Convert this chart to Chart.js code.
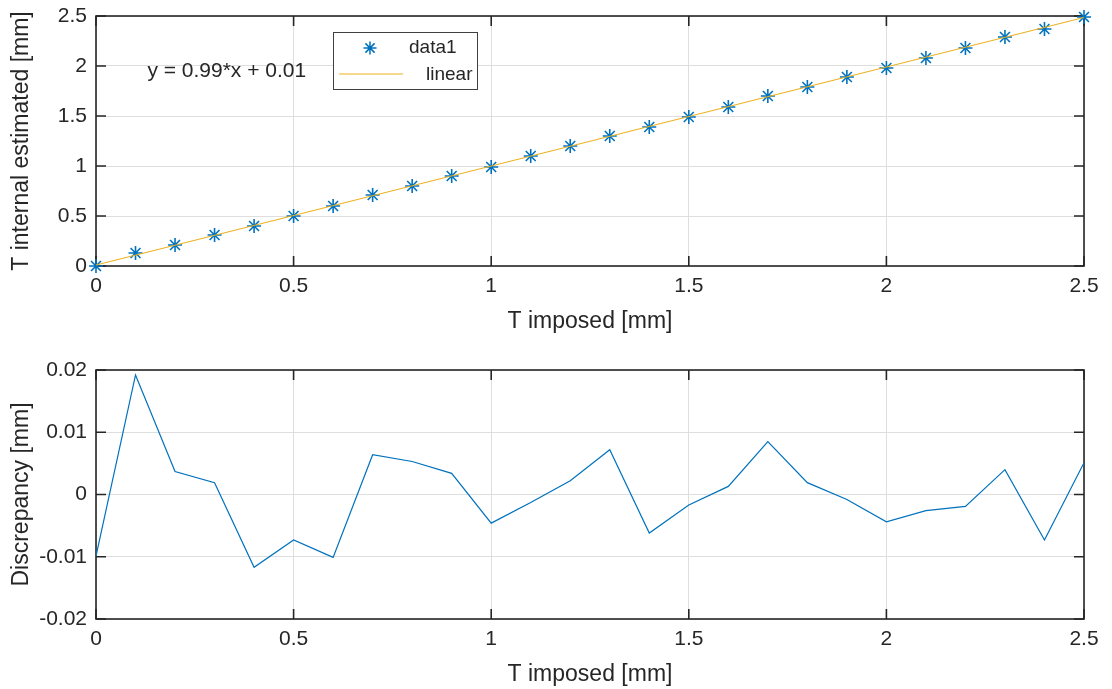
<!DOCTYPE html>
<html>
<head>
<meta charset="utf-8">
<title>T imposed vs estimated</title>
<script src="https://cdn.jsdelivr.net/npm/chart.js@4.4.1/dist/chart.umd.min.js"></script>
<style>
	html, body { margin: 0; padding: 0; background: #fff; }
	#wrap { position: relative; width: 1112px; height: 689px; }
	canvas { position: absolute; left: 0; }
	#topChart { top: 0; }
	#bottomChart { top: 344px; }
</style>
</head>
<body>
<div id="wrap">
	<canvas id="topChart" width="1112" height="344"></canvas>
	<canvas id="bottomChart" width="1112" height="345"></canvas>
</div>
<script>
// du lieu doc tu hinh
const tImposed = [0, 0.1, 0.2, 0.3, 0.4, 0.5, 0.6, 0.7, 0.8, 0.9, 1.0, 1.1, 1.2,
	1.3, 1.4, 1.5, 1.6, 1.7, 1.8, 1.9, 2.0, 2.1, 2.2, 2.3, 2.4, 2.5];
const tEstimated = [0.00, 0.13, 0.21, 0.31, 0.40, 0.50, 0.60, 0.71, 0.80, 0.90, 0.99, 1.10, 1.20,
	1.30, 1.39, 1.49, 1.59, 1.70, 1.79, 1.89, 1.98, 2.08, 2.18, 2.29, 2.37, 2.49];
const fitX = [0, 2.5];
const fitY = [0.01, 2.485];
const discrepancy = [-0.0099, 0.0192, 0.0037, 0.0019, -0.0117, -0.0073, -0.0101, 0.0064, 0.0053,
	0.0034, -0.0046, -0.0013, 0.0022, 0.0072, -0.0062, -0.0017, 0.0013, 0.0085, 0.0019,
	-0.0008, -0.0044, -0.0026, -0.0019, 0.0040, -0.0073, 0.0051];

const xTicks = [0, 0.5, 1, 1.5, 2, 2.5];
const yTicksTop = [0, 0.5, 1, 1.5, 2, 2.5];
const yTicksBottom = [-0.02, -0.01, 0, 0.01, 0.02];

const fitLabel = 'y = 0.99*x + 0.01';
const legendLabels = ['data1', 'linear'];

const BLUE = '#0072BD';
const ORANGE = '#EDB120';
const TEXT = '#262626';
const GRID = '#dedede';
const FONT = "'Liberation Sans', Arial, Helvetica, sans-serif";

Chart.defaults.font.family = FONT;
Chart.defaults.color = TEXT;

function fmt(v) {
	return String(+v.toFixed(4));
}

function toPoints(xs, ys) {
	return xs.map((x, i) => ({ x: x, y: ys[i] }));
}

// khung + vach chia huong vao trong (kieu MATLAB)
const matlabAxes = {
	id: 'matlabAxes',
	beforeDatasetsDraw(chart) {
		const { ctx, chartArea: a, scales } = chart;
		const len = 10;
		ctx.save();
		ctx.strokeStyle = TEXT;
		ctx.lineWidth = 1.6;
		ctx.beginPath();
		scales.x.ticks.forEach(t => {
			const px = scales.x.getPixelForValue(t.value);
			ctx.moveTo(px, a.bottom); ctx.lineTo(px, a.bottom - len);
			ctx.moveTo(px, a.top); ctx.lineTo(px, a.top + len);
		});
		scales.y.ticks.forEach(t => {
			const py = scales.y.getPixelForValue(t.value);
			ctx.moveTo(a.left, py); ctx.lineTo(a.left + len, py);
			ctx.moveTo(a.right, py); ctx.lineTo(a.right - len, py);
		});
		ctx.stroke();
		ctx.strokeRect(a.left, a.top, a.right - a.left, a.bottom - a.top);
		ctx.restore();
	}
};

// chu thich + phuong trinh
const topExtras = {
	id: 'topExtras',
	afterDraw(chart) {
		const { ctx, scales } = chart;
		ctx.save();
		// phuong trinh
		ctx.fillStyle = TEXT;
		ctx.font = '21px ' + FONT;
		ctx.textAlign = 'left';
		ctx.textBaseline = 'middle';
		ctx.fillText(fitLabel, scales.x.getPixelForValue(0.13), scales.y.getPixelForValue(1.95));

		// hop chu thich
		const bx = 333, by = 32, bw = 144, bh = 57;
		ctx.fillStyle = '#fff';
		ctx.fillRect(bx, by, bw, bh);
		ctx.strokeStyle = '#404040';
		ctx.lineWidth = 1;
		ctx.strokeRect(bx + 0.5, by + 0.5, bw, bh);

		// dau sao
		const sx = 370, sy = 48, r = 6.5;
		ctx.strokeStyle = BLUE;
		ctx.lineWidth = 1.5;
		ctx.beginPath();
		ctx.moveTo(sx - r, sy); ctx.lineTo(sx + r, sy);
		ctx.moveTo(sx, sy - r); ctx.lineTo(sx, sy + r);
		const d = r * 0.7071;
		ctx.moveTo(sx - d, sy - d); ctx.lineTo(sx + d, sy + d);
		ctx.moveTo(sx - d, sy + d); ctx.lineTo(sx + d, sy - d);
		ctx.stroke();

		// duong linear
		ctx.strokeStyle = ORANGE;
		ctx.lineWidth = 1.2;
		ctx.beginPath();
		ctx.moveTo(339, 74); ctx.lineTo(403, 74);
		ctx.stroke();

		ctx.fillStyle = TEXT;
		ctx.font = '19px ' + FONT;
		ctx.fillText(legendLabels[0], 409, 48);
		ctx.fillText(legendLabels[1], 426, 75);
		ctx.restore();
	}
};

function xScale(canvasBottomGap, titlePadBottom) {
	return {
		type: 'linear',
		min: 0,
		max: 2.5,
		afterBuildTicks: s => { s.ticks = xTicks.map(v => ({ value: v })); },
		afterFit: s => { s.height = canvasBottomGap; s.paddingLeft = 0; s.paddingRight = 0; },
		grid: { color: GRID, lineWidth: 1, drawTicks: false },
		border: { display: false },
		ticks: { font: { size: 21 }, color: TEXT, padding: 8, maxRotation: 0, autoSkip: false, callback: v => fmt(v) },
		title: { display: true, text: 'T imposed [mm]', color: TEXT, font: { size: 23, lineHeight: 1 }, padding: { top: 0, bottom: titlePadBottom } }
	};
}

function yScale(min, max, ticks, label) {
	return {
		type: 'linear',
		min: min,
		max: max,
		afterBuildTicks: s => { s.ticks = ticks.map(v => ({ value: v })); },
		// bo phan dem tu dong de khung ve dung cho
		afterFit: s => { s.width = 96; s.paddingTop = 0; s.paddingBottom = 0; },
		grid: { color: GRID, lineWidth: 1, drawTicks: false },
		border: { display: false },
		ticks: { font: { size: 21 }, color: TEXT, padding: 9, autoSkip: false, callback: v => fmt(v) },
		title: { display: true, text: label, color: TEXT, font: { size: 23, lineHeight: 1 }, padding: { top: 10.5, bottom: 0 } }
	};
}

// bieu do tren
new Chart(document.getElementById('topChart').getContext('2d'), {
	type: 'scatter',
	data: {
		datasets: [{
			label: legendLabels[0],
			data: toPoints(tImposed, tEstimated),
			showLine: false,
			pointStyle: 'star',
			pointRadius: 7,
			pointBorderWidth: 1.6,
			borderColor: BLUE,
			backgroundColor: BLUE,
			clip: false,
			order: 1
		}, {
			label: legendLabels[1],
			data: toPoints(fitX, fitY),
			showLine: true,
			pointRadius: 0,
			borderColor: ORANGE,
			borderWidth: 1.2,
			order: 0
		}]
	},
	options: {
		responsive: false,
		animation: false,
		devicePixelRatio: 1,
		layout: { padding: { left: 0, right: 28, top: 16, bottom: 0 } },
		plugins: { legend: { display: false }, tooltip: { enabled: false } },
		scales: {
			x: xScale(78, 10.5),
			y: yScale(0, 2.5, yTicksTop, 'T internal estimated [mm]')
		}
	},
	plugins: [matlabAxes, topExtras]
});

// bieu do duoi
new Chart(document.getElementById('bottomChart').getContext('2d'), {
	type: 'scatter',
	data: {
		datasets: [{
			label: 'Discrepancy',
			data: toPoints(tImposed, discrepancy),
			showLine: true,
			pointRadius: 0,
			borderColor: BLUE,
			borderWidth: 1.2,
			tension: 0
		}]
	},
	options: {
		responsive: false,
		animation: false,
		devicePixelRatio: 1,
		layout: { padding: { left: 0, right: 28, top: 26, bottom: 0 } },
		plugins: { legend: { display: false }, tooltip: { enabled: false } },
		scales: {
			x: xScale(70, 2.5),
			y: yScale(-0.02, 0.02, yTicksBottom, 'Discrepancy [mm]')
		}
	},
	plugins: [matlabAxes]
});
</script>
</body>
</html>
